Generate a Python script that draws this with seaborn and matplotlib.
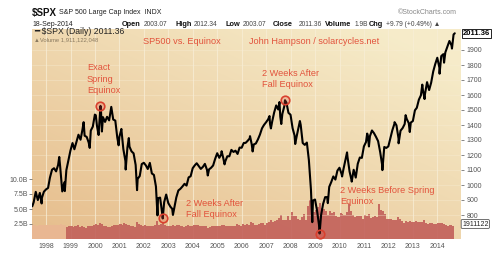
import numpy as np
import pandas as pd
import matplotlib
matplotlib.use("Agg")
import matplotlib.pyplot as plt
import matplotlib.dates as mdates
import seaborn as sns

# ---------------- data ----------------
# S&P 500 month-end closes, Jun 1997 .. Aug 2014
monthly_closes = [
    885.1, 954.3, 899.5, 947.3, 914.6, 955.4, 970.4,
    980.3, 1049.3, 1101.8, 1111.8, 1090.8, 1133.8, 1120.7, 957.3, 1017.0, 1098.7, 1163.6, 1229.2,
    1279.6, 1238.3, 1286.4, 1335.2, 1301.8, 1372.7, 1328.7, 1320.4, 1282.7, 1362.9, 1389.0, 1469.3,
    1394.5, 1366.4, 1498.6, 1452.4, 1420.6, 1454.6, 1430.8, 1517.7, 1436.5, 1429.4, 1315.2, 1320.3,
    1366.0, 1239.9, 1160.3, 1249.5, 1255.8, 1224.4, 1211.2, 1133.6, 1040.9, 1059.8, 1139.5, 1148.1,
    1130.2, 1106.7, 1147.4, 1076.9, 1067.1, 989.8, 911.6, 916.1, 815.3, 885.8, 936.3, 879.8,
    855.7, 841.2, 848.2, 916.9, 963.6, 974.5, 990.3, 1008.0, 996.0, 1050.7, 1058.2, 1111.9,
    1131.1, 1144.9, 1126.2, 1107.3, 1120.7, 1140.8, 1101.7, 1104.2, 1114.6, 1130.2, 1173.8, 1211.9,
    1181.3, 1203.6, 1180.6, 1156.9, 1191.5, 1191.3, 1234.2, 1220.3, 1228.8, 1207.0, 1249.5, 1248.3,
    1280.1, 1280.7, 1294.8, 1310.6, 1270.1, 1270.2, 1276.7, 1303.8, 1335.9, 1377.9, 1400.6, 1418.3,
    1438.2, 1406.8, 1420.9, 1482.4, 1530.6, 1503.4, 1455.3, 1474.0, 1526.8, 1549.4, 1481.1, 1468.4,
    1378.6, 1330.6, 1322.7, 1385.6, 1400.4, 1280.0, 1267.4, 1282.8, 1166.4, 968.8, 896.2, 903.3,
    825.9, 735.1, 797.9, 872.8, 919.1, 919.3, 987.5, 1020.6, 1057.1, 1036.2, 1095.6, 1115.1,
    1073.9, 1104.5, 1169.4, 1186.7, 1089.4, 1030.7, 1101.6, 1049.3, 1141.2, 1183.3, 1180.6, 1257.6,
    1286.1, 1327.2, 1325.8, 1363.6, 1345.2, 1320.6, 1292.3, 1219.0, 1131.4, 1253.3, 1247.0, 1257.6,
    1312.4, 1365.7, 1408.5, 1397.9, 1310.3, 1362.2, 1379.3, 1406.6, 1440.7, 1412.2, 1416.2, 1426.2,
    1498.1, 1514.7, 1569.2, 1597.6, 1630.7, 1606.3, 1685.7, 1633.0, 1681.6, 1756.5, 1805.8, 1848.4,
    1782.6, 1859.5, 1872.3, 1884.0, 1923.6, 1960.2, 1930.7, 2003.4,
]
month_end_dates = pd.date_range("1997-06-30", periods=len(monthly_closes), freq="ME")

# intra-month swing highs / lows
swing_dates = [
    "1997-06-09", "1997-10-27", "1998-07-17", "1998-10-08", "1999-07-16", "1999-10-15",
    "2000-01-14", "2000-02-25", "2000-03-24", "2000-04-14", "2000-09-01", "2000-12-20",
    "2001-01-30", "2001-04-04", "2001-05-21", "2001-09-21", "2002-07-23", "2002-10-09",
    "2003-03-11", "2004-08-12", "2005-03-07", "2005-04-20", "2006-05-05", "2006-06-13",
    "2007-02-20", "2007-03-13", "2007-07-19", "2007-08-15", "2007-10-09", "2008-03-10",
    "2008-05-19", "2008-11-20", "2009-03-09", "2009-07-10", "2010-02-08", "2010-04-23",
    "2010-07-02", "2011-02-18", "2011-03-16", "2011-04-29", "2011-10-03", "2012-04-02",
    "2012-06-01", "2012-09-14", "2012-11-15", "2013-05-21", "2013-06-24", "2013-08-30",
    "2014-02-03", "2014-04-11", "2014-08-07", "2014-09-18",
]
swing_values = [
    858.0, 877.0, 1186.8, 959.4, 1418.8, 1247.4,
    1465.2, 1333.4, 1527.5, 1356.6, 1520.8, 1264.7,
    1373.7, 1103.3, 1312.8, 965.8, 797.7, 776.8,
    800.7, 1063.2, 1225.3, 1137.5, 1325.8, 1223.7,
    1459.7, 1377.0, 1553.1, 1406.7, 1565.2, 1273.4,
    1426.6, 752.4, 676.5, 879.1, 1056.7, 1217.3,
    1022.6, 1343.0, 1256.9, 1363.6, 1099.2, 1419.0,
    1278.0, 1465.8, 1353.3, 1669.2, 1573.1, 1632.9,
    1741.9, 1815.7, 1909.6, 2011.4,
]

# volume (billions) monthly, Nov 1998 .. Sep 2014
volume_b = [
    2.0, 2.1,
    2.2, 2.0, 2.1, 2.3, 2.0, 2.1, 2.0, 1.9, 2.1, 2.2, 2.1, 2.3,
    2.5, 2.4, 2.6, 2.5, 2.2, 2.1, 2.0, 2.0, 2.1, 2.4, 2.3, 2.4,
    2.5, 2.4, 2.6, 2.5, 2.3, 2.2, 2.1, 2.0, 2.8, 2.5, 2.3, 2.2,
    2.3, 2.2, 2.1, 2.2, 2.2, 2.4, 3.0, 2.4, 2.5, 2.8, 2.4, 2.2,
    2.2, 2.1, 2.3, 2.2, 2.3, 2.4, 2.2, 2.0, 2.2, 2.3, 2.2, 2.1,
    2.4, 2.3, 2.4, 2.2, 2.1, 2.1, 2.1, 1.9, 2.0, 2.2, 2.2, 2.1,
    2.2, 2.2, 2.3, 2.4, 2.2, 2.2, 2.1, 2.1, 2.2, 2.5, 2.3, 2.2,
    2.5, 2.4, 2.5, 2.4, 2.8, 2.7, 2.4, 2.3, 2.5, 2.6, 2.6, 2.4,
    2.6, 2.9, 3.1, 2.8, 3.0, 3.1, 3.5, 4.0, 3.1, 3.2, 3.8, 3.1,
    4.5, 3.8, 3.9, 3.4, 3.1, 3.6, 4.2, 3.2, 5.5, 6.5, 5.5, 4.5,
    4.8, 5.3, 6.0, 5.2, 5.0, 4.6, 4.0, 4.6, 4.3, 4.5, 3.8, 3.6,
    4.3, 4.2, 4.0, 4.5, 5.8, 4.6, 4.0, 3.7, 3.8, 3.8, 3.9, 3.3,
    4.0, 3.9, 4.1, 3.5, 3.6, 3.9, 3.7, 5.8, 4.8, 4.6, 4.1, 3.4,
    3.4, 3.3, 3.2, 3.2, 3.6, 3.4, 3.0, 2.7, 3.0, 2.9, 3.0, 2.9,
    2.9, 3.0, 2.8, 2.9, 2.9, 3.2, 2.7, 2.5, 2.6, 2.7, 2.5, 2.5,
    2.6, 2.7, 2.6, 2.5, 2.3, 2.2, 2.3, 2.1, 2.2,
]
volume_dates = pd.date_range("1998-11-01", periods=len(volume_b), freq="MS")
early_volume_b = [2.3, 2.3, 2.2, 2.4, 2.3, 2.3, 2.4, 2.3, 2.4, 2.3, 2.4, 2.4, 2.3, 2.4, 2.5, 2.4, 2.4, 2.4]
early_volume_dates = pd.date_range("1997-06-01", periods=len(early_volume_b), freq="MS")

price_ticks = [800, 900, 1000, 1100, 1200, 1300, 1400, 1500, 1600, 1700, 1800, 1900]
volume_ticks = [2.5, 5.0, 7.5, 10.0]
volume_tick_labels = ["2.5B", "5.0B", "7.5B", "10.0B"]
year_labels = [str(y) for y in range(1998, 2015)]

marker_dates = ["2000-03-24", "2002-10-09", "2007-10-09", "2009-03-09"]
marker_values = [1527.5, 776.8, 1565.2, 676.5]

# ---------------- figure ----------------
sns.set_theme(style="white")
plt.rcParams["font.family"] = ["Liberation Sans", "DejaVu Sans"]

W, H = 500, 254
fig = plt.figure(figsize=(5.0, 2.54), dpi=100)
fig.patch.set_facecolor("white")

L, R, T, B = 32, 461, 29, 239
ax_v = fig.add_axes([L / W, 1 - B / H, (R - L) / W, (B - T) / H])
ax_p = ax_v.twinx()

# background gradient
ny, nx = 60, 120
yy, xx = np.mgrid[0:1:ny * 1j, 0:1:nx * 1j]
t = np.clip(0.6 * (1 - yy) + 0.55 * (1 - xx) - 0.1, 0, 1)[..., None]
c_light = np.array([0.965, 0.925, 0.790])
c_dark = np.array([0.905, 0.750, 0.560])
grad = c_light * (1 - t) + c_dark * t
ax_v.imshow(grad, extent=[0, 1, 0, 1], transform=ax_v.transAxes, aspect="auto",
            origin="lower", zorder=0, interpolation="bilinear")

xmin, xmax = pd.Timestamp("1997-06-05"), pd.Timestamp("2014-12-20")

# year gridlines
for y in range(1998, 2015):
    ax_v.axvline(pd.Timestamp(f"{y}-01-01"), color="#f8eed6", lw=0.8, alpha=0.75, zorder=1)

# volume
ax_v.fill_between(early_volume_dates, 0, early_volume_b, step="post", color="#e9b792",
                  lw=0, zorder=2)
ax_v.fill_between(volume_dates, 0, volume_b, step="post", color="#c2605a", alpha=0.9,
                  lw=0, zorder=2)
ax_v.set_ylim(0, 35)
ax_v.set_xlim(xmin, xmax)
ax_v.set_yticks(volume_ticks)
ax_v.set_yticklabels(volume_tick_labels)
ax_v.tick_params(axis="y", labelsize=5, colors="#555555", length=2, width=0.5, pad=1,
                 left=True, right=False)

# price
price = pd.DataFrame({
    "date": list(month_end_dates) + list(pd.to_datetime(swing_dates)),
    "close": monthly_closes + swing_values,
}).sort_values("date")
sns.lineplot(data=price, x="date", y="close", ax=ax_p, color="black", lw=1.5,
             estimator=None, zorder=5)
ax_p.set_ylim(640, 2040)
ax_p.set_xlim(xmin, xmax)
ax_p.set_yticks(price_ticks)
ax_p.set_yticklabels([str(v) for v in price_ticks])
ax_p.tick_params(axis="y", labelsize=5, colors="#555555", length=2, width=0.5, pad=2,
                 right=True, left=False)
ax_p.set_xlabel("")
ax_p.set_ylabel("")
ax_v.set_ylabel("")

for v in price_ticks:
    ax_p.axhline(v, color="#f8eed6", lw=0.5, alpha=0.5, zorder=1)

# markers
ax_p.scatter(pd.to_datetime(marker_dates), marker_values, s=38, facecolor=(0.9, 0.3, 0.25, 0.25),
             edgecolor="#d9402e", lw=1.2, zorder=6)

# x axis
ax_v.set_xticks([pd.Timestamp(f"{y}-01-01") for y in range(1998, 2015)])
ax_v.set_xticklabels(year_labels)
ax_v.tick_params(axis="x", labelsize=5, colors="#555555", length=0, pad=3)
ax_p.tick_params(axis="x", length=0)

for a in (ax_v, ax_p):
    for s in a.spines.values():
        s.set_visible(False)
ax_p.patch.set_visible(False)

# right-side value boxes
ax_p.annotate("2011.36", xy=(1.0, 2011.36), xycoords=("axes fraction", "data"),
              xytext=(1.5, 0), textcoords="offset points", fontsize=5.5, fontweight="bold",
              va="center", ha="left", color="black",
              bbox=dict(boxstyle="square,pad=0.15", fc="white", ec="black", lw=0.6))
fig.text(462 / W, 1 - 224 / H, "1911122", fontsize=5, va="center", ha="left", color="#222222",
         bbox=dict(boxstyle="round,pad=0.12", fc="white", ec="#333333", lw=0.5))

# header
def px(x, y):
    return x / W, 1 - y / H

red = "#e2533c"
fig.text(*px(32, 13), "$SPX", fontsize=7, fontweight="bold", va="center", color="#111111")
fig.text(*px(59, 13), "S&P 500 Large Cap Index  INDX", fontsize=5, va="center", color="#222222")
fig.text(*px(32, 24), "18-Sep-2014", fontsize=5, va="center", color="#222222")
hdr = [(122, "Open", True), (144, "2003.07", False), (175, "High", True), (194, "2012.34", False),
       (226, "Low", True), (243, "2003.07", False), (273, "Close", True), (299, "2011.36", False),
       (325, "Volume", True), (355, "1.9B", False), (369, "Chg", True),
       (386, "+9.79 (+0.49%) \u25b2", False)]
for x, s, b in hdr:
    fig.text(*px(x, 24), s, fontsize=5.3 if b else 4.8, fontweight="bold" if b else "normal",
             va="center", color="#111111" if b else "#444444")
fig.text(*px(398, 13), "\u00a9StockCharts.com", fontsize=5, va="center", color="#888888")

# legend inside plot
fig.text(*px(34, 32), "\u2501 $SPX (Daily) 2011.36", fontsize=6.2, va="center", color="#222222")
fig.text(*px(34, 40), "\u25b2Volume 1,911,122,048", fontsize=4.2, va="center", color="#8a7a60")

# red annotations
fig.text(*px(143, 42), "SP500 vs. Equinox", fontsize=6.6, va="center", color=red)
fig.text(*px(249, 42), "John Hampson / solarcycles.net", fontsize=6.6, va="center", color=red)
fig.text(*px(87, 79), "Exact\nSpring\nEquinox", fontsize=6.6, va="center", color=red,
         linespacing=1.35)
fig.text(*px(262, 79), "2 Weeks After\nFall Equinox", fontsize=6.6, va="center", color=red,
         linespacing=1.35)
fig.text(*px(186, 209), "2 Weeks After\nFall Equinox", fontsize=6.6, va="center", color=red,
         linespacing=1.35)
fig.text(*px(340, 196), "2 Weeks Before Spring\nEquinox", fontsize=6.6, va="center", color=red,
         linespacing=1.35)

fig.savefig("out.png", dpi=100)
